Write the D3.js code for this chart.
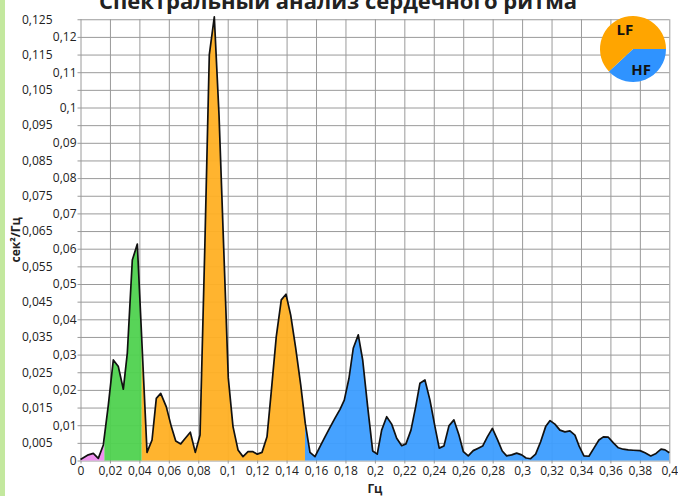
<!DOCTYPE html>
<html>
<head>
<meta charset="utf-8">
<script src="https://cdn.jsdelivr.net/npm/d3@7"></script>
<style>
  body { margin: 0; background: #fff; }
  text { font-family: "Open Sans", sans-serif; fill: #222; }
</style>
</head>
<body>
<script>
// spectrum samples, Hz and sec^2/Hz
var freqs = [0, 0.0053, 0.0087, 0.0121, 0.0155, 0.0189, 0.0223, 0.0257, 0.0291, 0.0318,
  0.0352, 0.0386, 0.0452, 0.0486, 0.0515, 0.0545, 0.0583, 0.0617, 0.0647, 0.0681,
  0.0712, 0.0746, 0.078, 0.0812, 0.0844, 0.0875, 0.0909, 0.0941, 0.0973, 0.1004,
  0.1036, 0.107, 0.1104, 0.1138, 0.1172, 0.1201, 0.1233, 0.1267, 0.1296, 0.133,
  0.1364, 0.1396, 0.1428, 0.1462, 0.1496, 0.1527, 0.1559, 0.1593, 0.1627, 0.1661,
  0.1695, 0.1729, 0.1763, 0.1792, 0.1824, 0.1853, 0.1887, 0.1917, 0.1951, 0.1985,
  0.2016, 0.2046, 0.208, 0.2114, 0.2148, 0.2182, 0.2211, 0.2245, 0.2277, 0.2306,
  0.234, 0.2374, 0.2408, 0.2437, 0.2469, 0.2503, 0.2537, 0.2571, 0.2601, 0.2634,
  0.2668, 0.2702, 0.2732, 0.2764, 0.2798, 0.2832, 0.2865, 0.2895, 0.2929, 0.2963,
  0.2997, 0.3027, 0.3058, 0.3092, 0.3126, 0.316, 0.319, 0.3223, 0.3257, 0.3291,
  0.3325, 0.3359, 0.3389, 0.342, 0.3454, 0.3488, 0.3522, 0.3552, 0.3586, 0.362,
  0.3654, 0.3687, 0.3721, 0.3755, 0.3801, 0.3835, 0.3874, 0.391, 0.3944, 0.3971, 0.4]

var power = [0.0003, 0.0016, 0.002, 0.0006, 0.0044, 0.0157, 0.0285, 0.0266, 0.0202, 0.0304,
  0.0568, 0.0613, 0.0023, 0.0058, 0.0176, 0.019, 0.0152, 0.0096, 0.0055, 0.0047,
  0.0063, 0.008, 0.0023, 0.0072, 0.0596, 0.1149, 0.1257, 0.0979, 0.0601, 0.0234,
  0.0096, 0.003, 0.0011, 0.0025, 0.0025, 0.0018, 0.0023, 0.0067, 0.0195, 0.0351,
  0.0455, 0.0471, 0.0412, 0.0318, 0.0214, 0.0105, 0.0023, 0.0011, 0.0039, 0.0067,
  0.0094, 0.012, 0.0145, 0.0171, 0.0233, 0.0318, 0.0356, 0.0285, 0.0152, 0.0027,
  0.0018, 0.0086, 0.0124, 0.0103, 0.0063, 0.0042, 0.0047, 0.0086, 0.0152, 0.0219,
  0.0228, 0.0171, 0.0096, 0.0035, 0.0041, 0.0098, 0.0115, 0.0072, 0.0025, 0.0013,
  0.0028, 0.0035, 0.0041, 0.0067, 0.0091, 0.006, 0.0027, 0.0013, 0.0016, 0.0021,
  0.0016, 0.0007, 0.0005, 0.0018, 0.0053, 0.0096, 0.0113, 0.0103, 0.0086, 0.0081,
  0.0084, 0.0072, 0.0039, 0.0013, 0.0012, 0.0035, 0.0058, 0.0067, 0.0066, 0.005,
  0.0036, 0.0032, 0.003, 0.0029, 0.0028, 0.0022, 0.0013, 0.002, 0.0032, 0.003, 0.0022]

// frequency bands (VLF low part, VLF, LF, HF)
var bandStart = [0, 0.0162, 0.0416, 0.1525]
var bandEnd = [0.0162, 0.0416, 0.1525, 0.4]
var bandColors = ['#ee8aee', '#4fd24f', '#ffb024', '#3c9dff']

var xTicks = [0, 0.02, 0.04, 0.06, 0.08, 0.1, 0.12, 0.14, 0.16, 0.18, 0.2,
  0.22, 0.24, 0.26, 0.28, 0.3, 0.32, 0.34, 0.36, 0.38, 0.4]
var yTicksMajor = [0, 0.01, 0.02, 0.03, 0.04, 0.05, 0.06, 0.07, 0.08, 0.09, 0.1, 0.11, 0.12]
var yTicksMinor = [0.005, 0.015, 0.025, 0.035, 0.045, 0.055, 0.065, 0.075, 0.085, 0.095, 0.105, 0.115, 0.125]

var pieLabels = ['HF', 'LF']
var pieValues = [38, 62]
var pieColors = ['#2f93ff', '#ffa500']

var w = 678
var h = 496

var margin = {
  top: 19.25,
  right: 8.7,
  bottom: 35.5,
  left: 80.5
}

var svg = d3.select('body')
            .append('svg')
            .attr('width', w)
            .attr('height', h)

svg.append('rect').attr('width', w).attr('height', h).attr('fill', '#fff')
// thin green stripe on the left edge
svg.append('rect').attr('width', 5).attr('height', h).attr('fill', '#c3e89e')

var x = d3.scaleLinear()
        .domain([0, 0.4])
        .range([margin.left, w - margin.right])

var y = d3.scaleLinear()
        .domain([0, 0.125])
        .range([h - margin.bottom, margin.top])

var fmt = d3.formatLocale({ decimal: ',', thousands: ' ', grouping: [3], currency: ['', ''] }).format('~g')

// GRID (also gives the little outside ticks)
var yGrid = svg.append('g')
  .attr('transform', 'translate(' + (margin.left - 3) + ',0)')
  .call(d3.axisLeft(y).tickValues(yTicksMajor.concat(yTicksMinor))
    .tickSize(-(x.range()[1] - margin.left + 3)).tickFormat(''))
yGrid.select('.domain').remove()

var xGrid = svg.append('g')
  .attr('transform', 'translate(0,' + (y(0) + 3) + ')')
  .call(d3.axisBottom(x).tickValues(xTicks)
    .tickSize(-(y(0) - margin.top + 3)).tickFormat(''))
xGrid.select('.domain').remove()

svg.selectAll('.tick line').attr('stroke', '#9a9a9a').attr('stroke-width', 1)

// AREAS, one per band, clipped to the band
var points = freqs.map(function (f, i) { return [f, power[i]] })

var area = d3.area()
  .x(function (d) { return x(d[0]) })
  .y0(y(0))
  .y1(function (d) { return y(d[1]) })

var defs = svg.append('defs')
bandStart.forEach(function (s, i) {
  defs.append('clipPath').attr('id', 'band' + i)
    .append('rect')
    .attr('x', x(s))
    .attr('y', 0)
    .attr('width', x(bandEnd[i]) - x(s))
    .attr('height', h)
})

svg.selectAll('.band')
  .data(bandColors)
  .enter()
    .append('path')
    .classed('band', true)
    .attr('d', area(points))
    .attr('fill', function (d) { return d })
    .attr('fill-opacity', 0.95)
    .attr('clip-path', function (d, i) { return 'url(#band' + i + ')' })

svg.append('path')
  .attr('d', d3.line().x(function (d) { return x(d[0]) }).y(function (d) { return y(d[1]) })(points))
  .attr('fill', 'none')
  .attr('stroke', '#111')
  .attr('stroke-width', 1.7)
  .attr('stroke-linejoin', 'round')

// AXIS LABELS
var yMajor = svg.append('g')
  .attr('transform', 'translate(' + margin.left + ',0)')
  .call(d3.axisLeft(y).tickValues(yTicksMajor).tickSize(0).tickPadding(4).tickFormat(fmt))
var yMinor = svg.append('g')
  .attr('transform', 'translate(' + margin.left + ',0)')
  .call(d3.axisLeft(y).tickValues(yTicksMinor).tickSize(0).tickPadding(28).tickFormat(fmt))
var xLab = svg.append('g')
  .attr('transform', 'translate(0,' + y(0) + ')')
  .call(d3.axisBottom(x).tickValues(xTicks).tickSize(0).tickPadding(6).tickFormat(fmt))

;[yMajor, yMinor, xLab].forEach(function (g) {
  g.select('.domain').remove()
  g.selectAll('text').attr('font-size', 12).attr('fill', '#222')
    .style('font-family', '"Open Sans", sans-serif')
})

svg.append('text')
  .attr('x', (x.range()[0] + x.range()[1]) / 2)
  .attr('y', 493)
  .attr('text-anchor', 'middle')
  .attr('font-size', 12)
  .attr('font-weight', 'bold')
  .text('Гц')

svg.append('text')
  .attr('transform', 'translate(15,' + ((y.range()[0] + y.range()[1]) / 2) + ') rotate(-90)')
  .attr('text-anchor', 'middle')
  .attr('dominant-baseline', 'central')
  .attr('font-size', 12)
  .attr('font-weight', 'bold')
  .text('сек²/Гц')

// TITLE (cut at the top like the original)
svg.append('text')
  .attr('x', 338)
  .attr('y', 9)
  .attr('text-anchor', 'middle')
  .attr('font-size', 22)
  .attr('font-weight', 'bold')
  .text('Спектральный анализ сердечного ритма')

// PIE OF LF / HF
var pie = d3.pie().sort(null).startAngle(Math.PI / 2).endAngle(Math.PI / 2 + 2 * Math.PI)
var slices = pie(pieValues)
var arc = d3.arc().innerRadius(0).outerRadius(33)
var labelArc = d3.arc().innerRadius(22).outerRadius(22)

var pieG = svg.append('g').attr('transform', 'translate(633,49)')
pieG.selectAll('path')
  .data(slices)
  .enter()
    .append('path')
    .attr('d', arc)
    .attr('fill', function (d, i) { return pieColors[i] })

pieG.selectAll('text')
  .data(slices)
  .enter()
    .append('text')
    .attr('transform', function (d) { return 'translate(' + labelArc.centroid(d) + ')' })
    .attr('text-anchor', 'middle')
    .attr('dominant-baseline', 'central')
    .attr('font-size', 15)
    .attr('font-weight', 'bold')
    .style('fill', '#111')
    .text(function (d, i) { return pieLabels[i] })
</script>
</body>
</html>
